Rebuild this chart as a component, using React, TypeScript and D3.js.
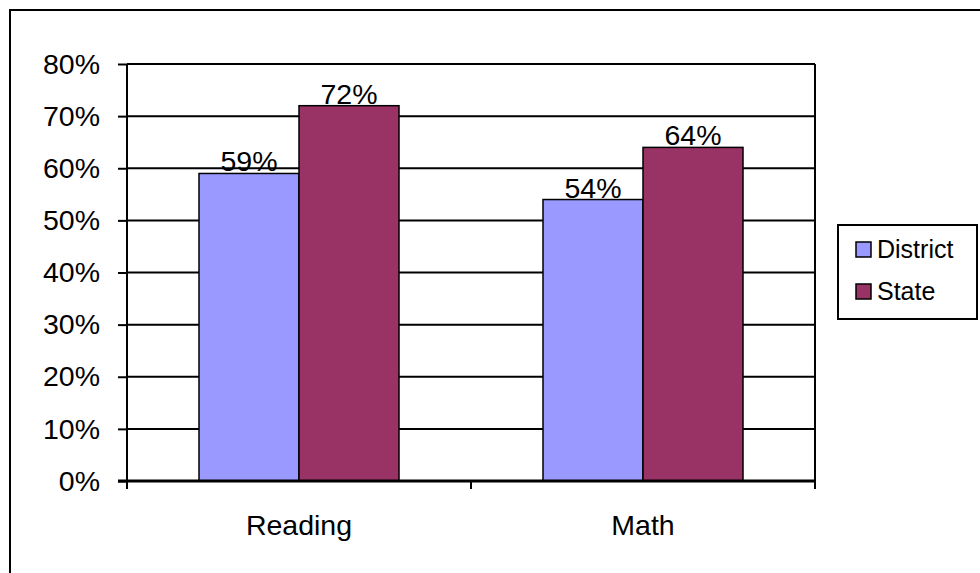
import React from 'react'
import * as d3 from 'd3'

const categories = ['Reading', 'Math']
const seriesNames = ['District', 'State']
const districtValues = [0.59, 0.54]
const stateValues = [0.72, 0.64]
const yTicks = [0, 0.1, 0.2, 0.3, 0.4, 0.5, 0.6, 0.7, 0.8]
const colors = ['#9999FF', '#993366']

const width = 980
const height = 573
const plot = { left: 127, right: 815, top: 64, bottom: 481 }
const font = 'Arial, "Liberation Sans", sans-serif'

function App() {
  const axisRef = React.useRef(null)

  const y = d3.scaleLinear().domain([0, 0.8]).range([plot.bottom, plot.top])
  const x0 = d3.scaleBand().domain(categories).range([plot.left, plot.right])
  const x1 = d3
    .scaleBand()
    .domain(seriesNames)
    .range([0, x0.bandwidth()])
    .paddingInner(0)
    .paddingOuter(0.72)
  const pct = d3.format('.0%')

  const rows = categories.map((c, i) => ({
    cat: c,
    vals: [districtValues[i], stateValues[i]]
  }))

  React.useEffect(() => {
    const yAxis = d3
      .axisLeft(y)
      .tickValues(yTicks)
      .tickFormat(d3.format('.0%'))
      .tickSize(9)
      .tickPadding(18)
    const g = d3.select(axisRef.current)
    g.call(yAxis)
    g.select('.domain').remove()
    g.selectAll('line').attr('stroke', '#000').attr('stroke-width', 2)
    g.selectAll('text')
      .attr('fill', '#000')
      .style('font-family', font)
      .style('font-size', '28.5px')
  }, [])

  return (
    <svg width={width} height={height} style={{ display: 'block' }}>
      <style>{'body{margin:0}'}</style>
      <rect x={0} y={0} width={width} height={height} fill="#fff" />
      <rect x={10} y={10} width={width} height={height} fill="none" stroke="#000" strokeWidth={2} />

      {/* gridlines */}
      {yTicks.slice(1).map(t => (
        <line
          key={t}
          x1={plot.left}
          x2={plot.right}
          y1={y(t)}
          y2={y(t)}
          stroke="#000"
          strokeWidth={2}
        />
      ))}
      <line x1={plot.right} x2={plot.right} y1={plot.top} y2={plot.bottom} stroke="#000" strokeWidth={2} />

      {/* bars */}
      {rows.map(r => (
        <g key={r.cat} transform={`translate(${x0(r.cat)},0)`}>
          {r.vals.map((v, j) => (
            <rect
              key={j}
              x={x1(seriesNames[j])}
              y={y(v)}
              width={x1.bandwidth()}
              height={plot.bottom - y(v)}
              fill={colors[j]}
              stroke="#000"
              strokeWidth={1.5}
            />
          ))}
          {r.vals.map((v, j) => (
            <text
              key={'l' + j}
              x={x1(seriesNames[j]) + x1.bandwidth() / 2}
              y={y(v) - 2}
              textAnchor="middle"
              fontFamily={font}
              fontSize={28.5}
              fill="#000"
            >
              {pct(v)}
            </text>
          ))}
        </g>
      ))}

      {/* axes */}
      <line x1={plot.left} x2={plot.left} y1={plot.top} y2={plot.bottom + 8} stroke="#000" strokeWidth={2} />
      <line x1={plot.left - 9} x2={plot.right} y1={plot.bottom} y2={plot.bottom} stroke="#000" strokeWidth={3} />
      {[...categories.map(c => x0(c)), plot.right].map((xv, i) => (
        <line key={i} x1={xv} x2={xv} y1={plot.bottom} y2={plot.bottom + 8} stroke="#000" strokeWidth={2} />
      ))}
      {categories.map(c => (
        <text
          key={c}
          x={x0(c) + x0.bandwidth() / 2}
          y={535}
          textAnchor="middle"
          fontFamily={font}
          fontSize={28.5}
          fill="#000"
        >
          {c}
        </text>
      ))}
      <g ref={axisRef} transform={`translate(${plot.left},0)`} />

      {/* legend */}
      <rect x={838} y={225} width={139} height={94} fill="#fff" stroke="#000" strokeWidth={2} />
      {seriesNames.map((s, i) => (
        <g key={s} transform={`translate(856,${242 + i * 42})`}>
          <rect x={0} y={0} width={15} height={15} fill={colors[i]} stroke="#000" strokeWidth={1.5} />
          <text x={21} y={16} fontFamily={font} fontSize={25} fill="#000">
            {s}
          </text>
        </g>
      ))}
    </svg>
  )
}

export default App
